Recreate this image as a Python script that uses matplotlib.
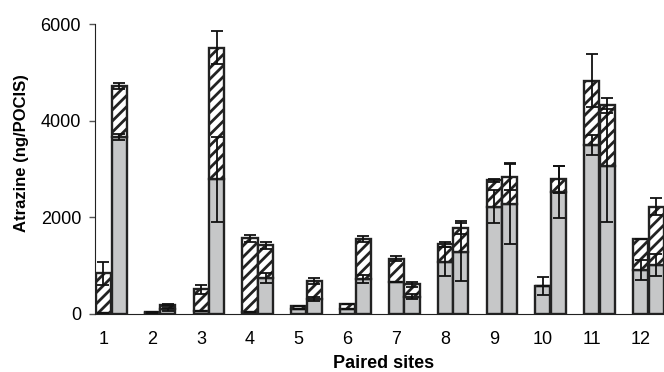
import numpy as np
import matplotlib.pyplot as plt

plt.rcParams['font.family'] = ['Liberation Sans', 'DejaVu Sans']
plt.rcParams['hatch.linewidth'] = 2.0

sites = [str(i) for i in range(1, 13)]

# bar A (first of each pair) and bar B (second of each pair)
gray_a = [30, 20, 70, 50, 95, 100, 670, 1080, 2220, 580, 3500, 910]
total_a = [840, 50, 510, 1570, 170, 210, 1140, 1440, 2770, 580, 4830, 1550]
gray_err_a = [0, 0, 0, 0, 0, 0, 0, 300, 340, 190, 200, 200]
total_err_a = [230, 0, 90, 70, 0, 0, 50, 50, 30, 0, 545, 0]

gray_b = [3660, 100, 2790, 745, 310, 720, 360, 1280, 2280, 2520, 3070, 1010]
total_b = [4720, 185, 5510, 1420, 680, 1550, 615, 1790, 2840, 2790, 4320, 2220]
gray_err_b = [65, 30, 880, 110, 40, 80, 50, 600, 830, 540, 1170, 230]
total_err_b = [70, 30, 340, 70, 60, 60, 50, 140, 280, 280, 160, 180]

x = np.arange(1, 13)
w = 0.31
off = 0.32
gray = '#c6c7c8'
edge = '#222222'

fig = plt.figure(figsize=(6.64, 3.72), dpi=100)
ax = fig.add_axes([0.143, 0.156, 0.857, 0.779])

for xs, g, t, ge, te in [(x, gray_a, total_a, gray_err_a, total_err_a),
                         (x + off, gray_b, total_b, gray_err_b, total_err_b)]:
    g = np.array(g)
    t = np.array(t)
    ax.bar(xs, g, width=w, color=gray, edgecolor=edge, linewidth=1.7, zorder=2)
    ax.bar(xs, t - g, bottom=g, width=w, color='white', edgecolor=edge,
           hatch='///', linewidth=1.7, zorder=2)
    ax.errorbar(xs, g, yerr=ge, fmt='none', ecolor='#111111', elinewidth=1.3,
                capsize=4, capthick=1.3, zorder=3)
    ax.errorbar(xs, t, yerr=te, fmt='none', ecolor='#111111', elinewidth=1.3,
                capsize=4, capthick=1.3, zorder=3)

ax.set_xlim(0.826, 12.48)
ax.set_ylim(0, 6000)
ax.set_yticks([0, 2000, 4000, 6000])
ax.set_xticks(x)
ax.set_xticklabels(sites)
ax.tick_params(axis='x', length=0, pad=12, labelsize=13)
ax.tick_params(axis='y', length=4, width=1, labelsize=13, direction='out',
               pad=6, color='#555555')
ax.spines['top'].set_visible(False)
ax.spines['right'].set_visible(False)
ax.spines['left'].set_color('#222222')
ax.spines['bottom'].set_color('#222222')

ax.set_xlabel('Paired sites', fontsize=13, fontweight='bold')
ax.set_ylabel('Atrazine (ng/POCIS)', fontsize=12, fontweight='bold')
ax.xaxis.set_label_coords(0.508, -0.143)
ax.yaxis.set_label_coords(-0.116, 0.555)

fig.savefig('out.png', dpi=100)
